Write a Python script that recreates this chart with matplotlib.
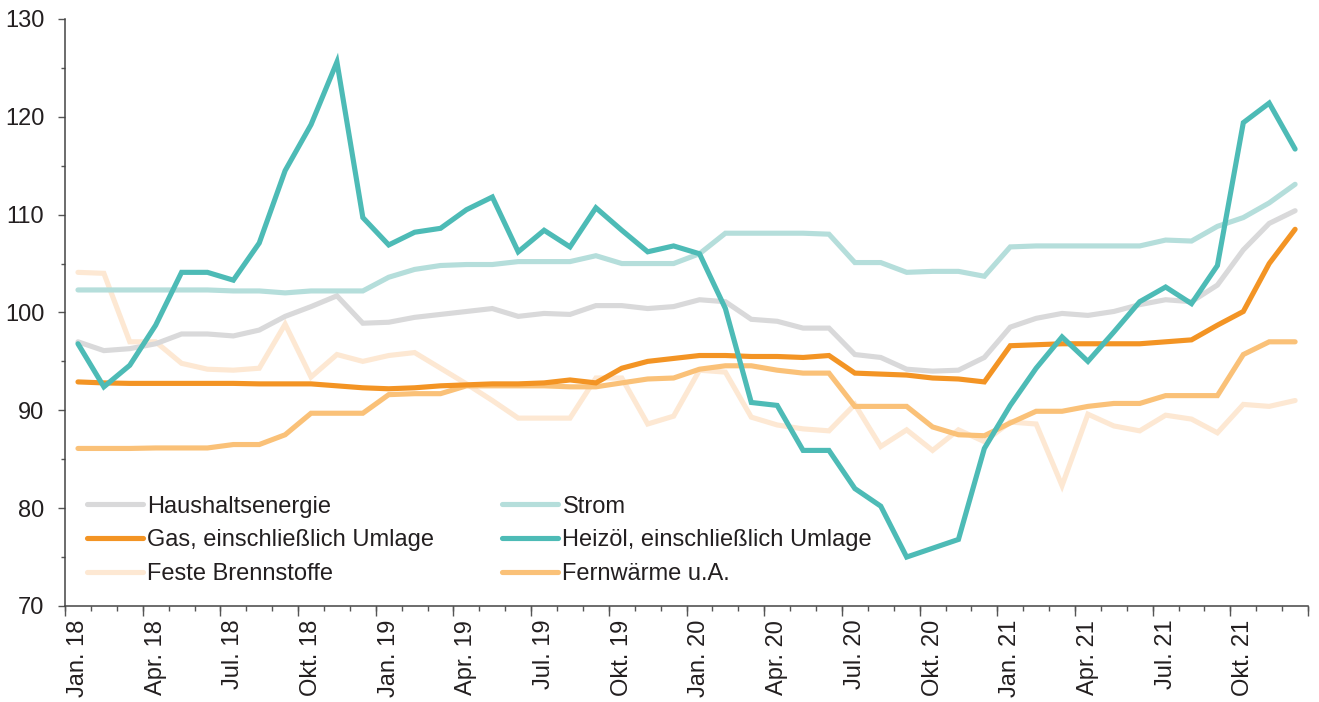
import numpy as np
import matplotlib.pyplot as plt
from matplotlib.ticker import MultipleLocator, FixedLocator, NullFormatter

plt.rcParams['font.family'] = ['Liberation Sans', 'DejaVu Sans']

# Monatswerte Jan. 18 - Dez. 21
months = ["Jan.", "Feb.", "Mär.", "Apr.", "Mai", "Jun.",
          "Jul.", "Aug.", "Sep.", "Okt.", "Nov.", "Dez."]
years = ["18", "19", "20", "21"]
labels = [f"{m} {y}" for y in years for m in months]

haushalt = [97.0, 96.1, 96.3, 96.8, 97.8, 97.8, 97.6, 98.2, 99.6, 100.6, 101.7, 98.9,
            99.0, 99.5, 99.8, 100.1, 100.4, 99.6, 99.9, 99.8, 100.7, 100.7, 100.4, 100.6,
            101.3, 101.1, 99.3, 99.1, 98.4, 98.4, 95.7, 95.4, 94.2, 94.0, 94.1, 95.4,
            98.5, 99.4, 99.9, 99.7, 100.1, 100.8, 101.3, 101.1, 102.8, 106.4, 109.1, 110.4]
strom = [102.3, 102.3, 102.3, 102.3, 102.3, 102.3, 102.2, 102.2, 102.0, 102.2, 102.2, 102.2,
         103.6, 104.4, 104.8, 104.9, 104.9, 105.2, 105.2, 105.2, 105.8, 105.0, 105.0, 105.0,
         106.0, 108.1, 108.1, 108.1, 108.1, 108.0, 105.1, 105.1, 104.1, 104.2, 104.2, 103.7,
         106.7, 106.8, 106.8, 106.8, 106.8, 106.8, 107.4, 107.3, 108.8, 109.7, 111.2, 113.1]
gas = [92.9, 92.8, 92.75, 92.75, 92.75, 92.75, 92.75, 92.7, 92.7, 92.7, 92.5, 92.3,
       92.2, 92.3, 92.5, 92.6, 92.7, 92.7, 92.8, 93.1, 92.8, 94.3, 95.0, 95.3,
       95.6, 95.6, 95.5, 95.5, 95.4, 95.6, 93.8, 93.7, 93.6, 93.3, 93.2, 92.9,
       96.6, 96.7, 96.8, 96.8, 96.8, 96.8, 97.0, 97.2, 98.7, 100.1, 105.0, 108.5]
heizoel = [96.8, 92.4, 94.6, 98.7, 104.1, 104.1, 103.3, 107.1, 114.5, 119.2, 125.6, 109.7,
           106.9, 108.2, 108.6, 110.5, 111.8, 106.2, 108.4, 106.7, 110.7, 108.4, 106.2, 106.8,
           106.0, 100.4, 90.8, 90.5, 85.9, 85.9, 82.0, 80.2, 75.0, 75.9, 76.8, 86.1,
           90.5, 94.3, 97.5, 95.0, 98.0, 101.1, 102.6, 100.9, 104.8, 119.4, 121.4, 116.7]
feste = [104.1, 104.0, 97.0, 97.0, 94.8, 94.2, 94.1, 94.3, 98.8, 93.4, 95.7, 95.0,
         95.6, 95.9, 94.3, 92.7, 91.0, 89.2, 89.2, 89.2, 93.3, 93.3, 88.6, 89.4,
         94.1, 93.9, 89.3, 88.5, 88.1, 87.9, 90.6, 86.3, 88.0, 85.9, 88.0, 86.8,
         88.8, 88.6, 82.3, 89.6, 88.4, 87.9, 89.5, 89.1, 87.7, 90.6, 90.4, 91.0]
fernwaerme = [86.1, 86.1, 86.1, 86.15, 86.15, 86.15, 86.5, 86.5, 87.5, 89.7, 89.7, 89.7,
              91.6, 91.7, 91.7, 92.5, 92.5, 92.5, 92.5, 92.4, 92.4, 92.8, 93.2, 93.3,
              94.2, 94.55, 94.55, 94.1, 93.8, 93.8, 90.4, 90.4, 90.4, 88.3, 87.5, 87.4,
              88.7, 89.9, 89.9, 90.4, 90.7, 90.7, 91.5, 91.5, 91.5, 95.7, 97.0, 97.0]

series = {
    "Haushaltsenergie": (haushalt, "#D9D9DA"),
    "Strom": (strom, "#B5DEDB"),
    "Gas, einschließlich Umlage": (gas, "#F39424"),
    "Heizöl, einschließlich Umlage": (heizoel, "#4DBBB6"),
    "Feste Brennstoffe": (feste, "#FDE8D3"),
    "Fernwärme u.A.": (fernwaerme, "#FAC178"),
}
draw_order = ["Feste Brennstoffe", "Haushaltsenergie", "Strom", "Fernwärme u.A.",
              "Gas, einschließlich Umlage", "Heizöl, einschließlich Umlage"]
legend_order = ["Haushaltsenergie", "Gas, einschließlich Umlage", "Feste Brennstoffe",
                "Strom", "Heizöl, einschließlich Umlage", "Fernwärme u.A."]

text_col = "#231F20"
x = np.arange(len(labels))

fig = plt.figure(figsize=(13.19, 7.02), dpi=100)
ax = fig.add_axes([0.0493, 0.1368, 0.9424, 0.8362])

handles = {}
for name in draw_order:
    vals, col = series[name]
    ln, = ax.plot(x, vals, color=col, lw=3.7, solid_capstyle="round",
                  solid_joinstyle="miter", label=name)
    handles[name] = ln

ax.set_xlim(-0.5, len(labels) - 0.5)
ax.set_ylim(70, 130)

# y axis
ax.yaxis.set_major_locator(MultipleLocator(10))
ax.yaxis.set_minor_locator(MultipleLocator(5))
ax.tick_params(axis="y", which="major", length=5, width=1, color="#555555",
               labelsize=17, labelcolor=text_col, pad=10)
ax.tick_params(axis="y", which="minor", length=3, width=1, color="#555555")

# x axis: labels every quarter, short ticks every month, long ticks every quarter
ax.set_xticks(x[::3])
ax.set_xticklabels(labels[::3], rotation=90)
ax.tick_params(axis="x", which="major", length=0, labelsize=17,
               labelcolor=text_col, pad=10)
ax.xaxis.set_minor_locator(FixedLocator(np.arange(-0.5, len(labels), 1)))
ax.tick_params(axis="x", which="minor", length=3.5, width=1, color="#555555")
sec = ax.secondary_xaxis("bottom")
sec.set_xticks(np.arange(-0.5, len(labels), 3))
sec.xaxis.set_major_formatter(NullFormatter())
sec.tick_params(length=7, width=1, color="#555555")
sec.spines["bottom"].set_visible(False)

for s in ["top", "right"]:
    ax.spines[s].set_visible(False)
for s in ["left", "bottom"]:
    ax.spines[s].set_color("#444444")
    ax.spines[s].set_linewidth(1.1)

leg = ax.legend([handles[n] for n in legend_order], legend_order, ncol=2,
                loc="upper left", bbox_to_anchor=(0.0177, 0.188), frameon=False,
                fontsize=17, handlelength=2.37, handletextpad=0.17,
                columnspacing=2.9, labelspacing=0.5, borderpad=0, borderaxespad=0)
for t in leg.get_texts():
    t.set_color(text_col)

fig.savefig("out.png", dpi=100)
